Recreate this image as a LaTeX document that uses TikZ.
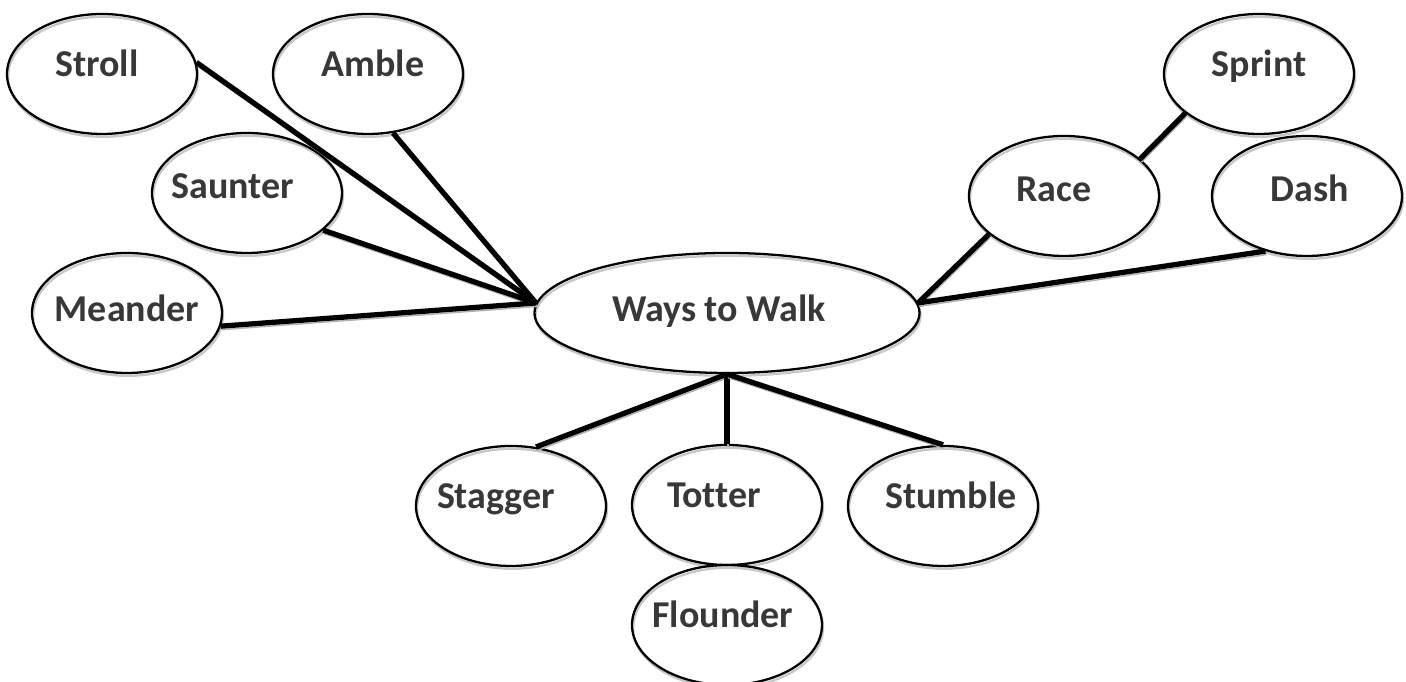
\documentclass[tikz,border=0pt]{standalone}
\usepackage{fontspec}
\setmainfont{Carlito}[Ligatures=CommonOff]
\usetikzlibrary{shapes.geometric}

\begin{document}
\begin{tikzpicture}[x=0.1mm, y=-0.1mm,
    bubble/.style={ellipse, draw, line width=0.65pt, minimum width=1.9cm, minimum height=1.2cm, inner xsep=-0.3cm, inner ysep=0pt, text height=0.75em, text depth=0.58em, font=\fontsize{10.8}{13}\selectfont\bfseries, text=black!78, preaction={draw=black!22, transform canvas={xshift=0.3pt, yshift=-0.8pt}}},
    shove/.style={execute at begin node={\hspace*{#1}}},
    link/.style={line width=1.5pt, preaction={draw=black!30, transform canvas={xshift=0.3pt, yshift=-1pt}}}
  ]
    \useasboundingbox (0,0) rectangle (1406,682);

    \node[bubble, shove=-1mm] (stroll) at (102,74) {Stroll};
    \node[bubble, shove=1mm] (amble) at (368,74) {Amble};
    \node[bubble, shove=-2.8mm, text depth=0.47em, text height=0.8em] (saunter) at (247,193) {Saunter};
    \node[bubble, text height=0.9em, text depth=0.42em] (meander) at (127,313) {Meander};
    \node[bubble, minimum width=3.85cm, shove=-1.6mm, text height=0.9em, text depth=0.42em] (ways) at (727,313) {Ways to Walk};
    \node[bubble] (sprint) at (1259,74) {Sprint};
    \node[bubble, shove=-2mm, text depth=0.47em, text height=0.8em] (race) at (1064,196) {Race};
    \node[bubble, shove=0.6mm, text depth=0.47em, text height=0.8em] (dash) at (1307,196) {Dash};
    \node[bubble, shove=-3mm] (stagger) at (511,506) {Stagger};
    \node[bubble, shove=-2.6mm] (totter) at (727,505) {Totter};
    \node[bubble, shove=1.6mm] (stumble) at (943,506) {Stumble};
    \node[bubble, shove=-0.8mm] (flounder) at (727,625) {Flounder};

    \draw[link] (stroll.7) -- (ways.177);
    \draw[link] (amble.293) -- (ways.177);
    \draw[link] (saunter.334) -- (ways.177);
    \draw[link] (meander.352) -- (ways.177);
    \draw[link] (race.207) -- (ways.3);
    \draw[link] (dash.233) -- (ways.3);
    \draw[link] (sprint.208) -- (race.26);
    \draw[link] (stagger.67) -- (ways.south);
    \draw[link] (totter.north) -- (ways.south);
    \draw[link] (stumble.north) -- (ways.south);
  \end{tikzpicture}
\end{document}
